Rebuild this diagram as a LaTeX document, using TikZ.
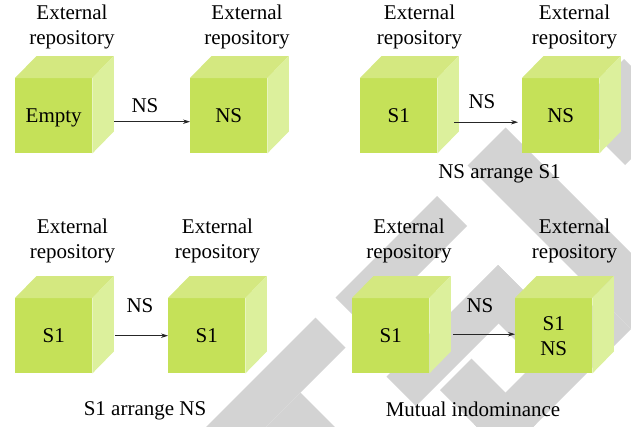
\documentclass[tikz,border=0pt]{standalone}
\usepackage{fontspec}
\setmainfont{Liberation Serif}
\usetikzlibrary{arrows.meta,calc}

\definecolor{cubefront}{RGB}{197,225,88}
\definecolor{cubetop}{RGB}{212,232,128}
\definecolor{cubeside}{RGB}{220,240,156}
\definecolor{wmgray}{RGB}{211,211,211}

\tikzset{
  repofront/.style={fill=cubefront, draw=none, minimum width=77pt, minimum height=75pt,
    inner sep=0pt, anchor=north west, text height=14pt, text depth=0pt},
  reponame/.style={align=center, anchor=north, inner sep=0pt},
  lbl/.style={anchor=base, inner sep=0pt},
  conn/.style={line width=0.9pt, draw=black!85, -{Stealth[length=7pt,width=4.5pt]}},
}

% one repository cube: front face node plus top and side faces
\newcommand\repocube[5][]{%
  \node[repofront,#1] (#2) at (#3,#4) {#5};
  \fill[cubetop] (#2.north west) -- ++(21.5,-22) -- ($(#2.north east)+(21.5,-22)$) -- (#2.north east) -- cycle;
  \fill[cubeside] (#2.north east) -- ++(21.5,-22) -- ($(#2.south east)+(21.5,-22)$) -- (#2.south east) -- cycle;
}

\begin{document}
\begin{tikzpicture}[x=1pt, y=-1pt, font=\fontsize{21}{25}\selectfont]
\useasboundingbox (0,0) rectangle (631,426);

% background bands, given in rotated coordinates u=x+y, v=x-y
\begin{scope}
  \clip (0,0) rectangle (631,426);
  \foreach \ua/\ub/\va/\vb in {633/693/-400/-2, 693/800/-400/-92, 633/693/38/241,
      633/1200/302/378, 683/790/460/565, 763/822/10/233, 763/898/175/233,
      898/960/50/302, 830/960/50/113}
    \fill[wmgray] ({(\ua+\va)/2},{(\ua-\va)/2}) -- ({(\ub+\va)/2},{(\ub-\va)/2})
      -- ({(\ub+\vb)/2},{(\ub-\vb)/2}) -- ({(\ua+\vb)/2},{(\ua-\vb)/2}) -- cycle;
\end{scope}

% cubes
\repocube{c1}{15}{78}{Empty}
\repocube{c2}{190}{78}{NS}
\repocube{c3}{360}{78}{S1}
\repocube{c4}{522}{78}{NS}
\repocube{c5}{15}{298}{S1}
\repocube{c6}{168}{298}{S1}
\repocube{c7}{352}{298}{S1}
\repocube[align=center, text height={}, text depth={}]{c8}{515}{298}{S1\\NS}

% repository titles
\node[reponame] (t1) at (72,5.2) {External\\repository};
\node[reponame] (t2) at (247,5.2) {External\\repository};
\node[reponame] (t3) at (419.5,5.2) {External\\repository};
\node[reponame] (t4) at (574.5,5.2) {External\\repository};
\node[reponame] (t5) at (72.5,218.7) {External\\repository};
\node[reponame] (t6) at (217.5,218.7) {External\\repository};
\node[reponame] (t7) at (409,218.7) {External\\repository};
\node[reponame] (t8) at (574.5,218.7) {External\\repository};

% transfers
\draw[conn] ([xshift=22pt,yshift=-6pt]c1.east) -- ([yshift=-6pt]c2.west);
\draw[conn] ([xshift=17pt,yshift=-6.5pt]c3.east) -- ([xshift=-4pt,yshift=-6.5pt]c4.west);
\draw[conn] ([xshift=23pt]c5.east) -- (c6.west);
\draw[conn] ([xshift=24pt,yshift=1.5pt]c7.east) -- ([yshift=1.5pt]c8.west);

\node[lbl] (n1) at (145,112) {NS};
\node[lbl] (n2) at (482,108) {NS};
\node[lbl] (n3) at (140,312) {NS};
\node[lbl] (n4) at (480,312) {NS};

% captions
\node[lbl] (k1) at (499.5,178.5) {NS arrange S1};
\node[lbl] (k2) at (145,415) {S1 arrange NS};
\node[lbl] (k3) at (473,416) {Mutual indominance};
\end{tikzpicture}
\end{document}
